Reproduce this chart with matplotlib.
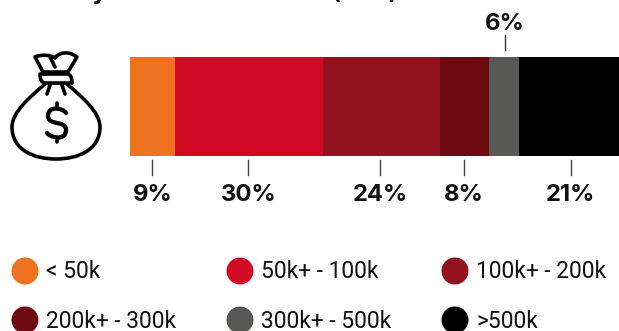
"""
 Stacked income bar with money bag icon, clipped title on top.
"""
import matplotlib
matplotlib.use('Agg')
import matplotlib.pyplot as plt
from matplotlib.patches import Ellipse, PathPatch
from matplotlib.path import Path

categories = ['< 50k', '50k+ - 100k', '100k+ - 200k', '200k+ - 300k', '300k+ - 500k', '>500k']
widths = [9.2, 30.3, 23.9, 10.0, 6.1, 20.5]
labels = ['9%', '30%', '24%', '8%', '6%', '21%']
label_pos = [4.6, 24.2, 51.2, 68.3, 76.6, 90.1]
colors = ['#EF721F', '#D10A26', '#92131F', '#6E0A12', '#585856', '#000000']
title = 'Family income distribution (USD)'

W, H = 619, 331
plt.rcParams['font.family'] = ['Inter', 'Roboto', 'DejaVu Sans']

fig = plt.figure(figsize=(W / 100, H / 100), dpi=100)
# full figure axes in pixels, y going down
ax = fig.add_axes([0, 0, 1, 1])
ax.set_xlim(0, W)
ax.set_ylim(H, 0)
ax.axis('off')

bar_x = 130
bar_w = 489
scale = bar_w / sum(widths)

left = bar_x
for w, c in zip(widths, colors):
    ax.barh(106.5, w * scale, height=99, left=left, color=c, linewidth=0)
    left += w * scale

for lab, p in zip(labels, label_pos):
    x = bar_x + p * scale
    if lab == '6%':
        ax.plot([x, x], [35, 50], color='#333333', lw=1.0)
        ax.text(x, 23.5, lab, ha='center', va='center', fontsize=17.2, fontweight='bold', color='#111111')
    else:
        ax.plot([x, x], [160, 175], color='#444444', lw=1.0)
        ax.text(x, 195, lab, ha='center', va='center', fontsize=17.2, fontweight='bold', color='#111111')

ax.text(33, -8, title, ha='left', va='center', fontsize=16.4, fontweight='bold',
        color='#111111', clip_on=True)

# legend
leg_x = [25, 240, 455]
leg_y = [271, 320]
for i, (cat, c) in enumerate(zip(categories, colors)):
    x = leg_x[i % 3]
    y = leg_y[i // 3]
    ax.add_patch(Ellipse((x, y), 27, 27, color=c, lw=0))
    ax.text(x + 21, y + 1, cat, ha='left', va='center', fontsize=16.4, color='#111111', family='Roboto')

# money bag icon
M, L, C, Z = Path.MOVETO, Path.LINETO, Path.CURVE3, Path.CLOSEPOLY
C4 = Path.CURVE4
body = Path([(45, 84), (30, 97), (12, 112), (12, 127), (12, 150), (34, 159), (56, 159),
             (78, 159), (100, 150), (100, 127), (100, 112), (82, 97), (67, 84)],
            [M, C4, C4, C4, C4, C4, C4, C4, C4, C4, C4, C4, C4])
top = Path([(43, 72), (35, 57), (42, 54), (50, 55), (55, 58), (58, 53), (68, 50), (77, 57), (68, 72), (43, 72)],
           [M, L, C4, C4, C4, C4, C4, C4, L, L])
knot = Path([(45, 74), (67, 74), (72, 74), (72, 83), (67, 83), (45, 83), (40, 83), (40, 74), (45, 74)],
            [M, L, C, C, L, L, C, C, L])
dollar = Path([(66, 113), (63, 108), (48, 105), (48, 116), (48, 126), (66, 120), (66, 130),
               (66, 141), (51, 138), (47, 133)],
              [M, C4, C4, C4, C4, C4, C4, C4, C4, C4])
for p in [body, top, knot]:
    ax.add_patch(PathPatch(p, fc='none', ec='black', lw=2.6, capstyle='round', joinstyle='round'))
ax.add_patch(PathPatch(dollar, fc='none', ec='black', lw=3.1, capstyle='round', joinstyle='round'))
for xs, ys in [([57, 57], [103, 107]), ([57, 57], [139, 142]), ([50, 47], [85, 94]),
               ([62, 65], [85, 94]), ([50, 55], [57, 67])]:
    ax.plot(xs, ys, color='black', lw=2.6, solid_capstyle='round')

fig.savefig('out.png', dpi=100)
